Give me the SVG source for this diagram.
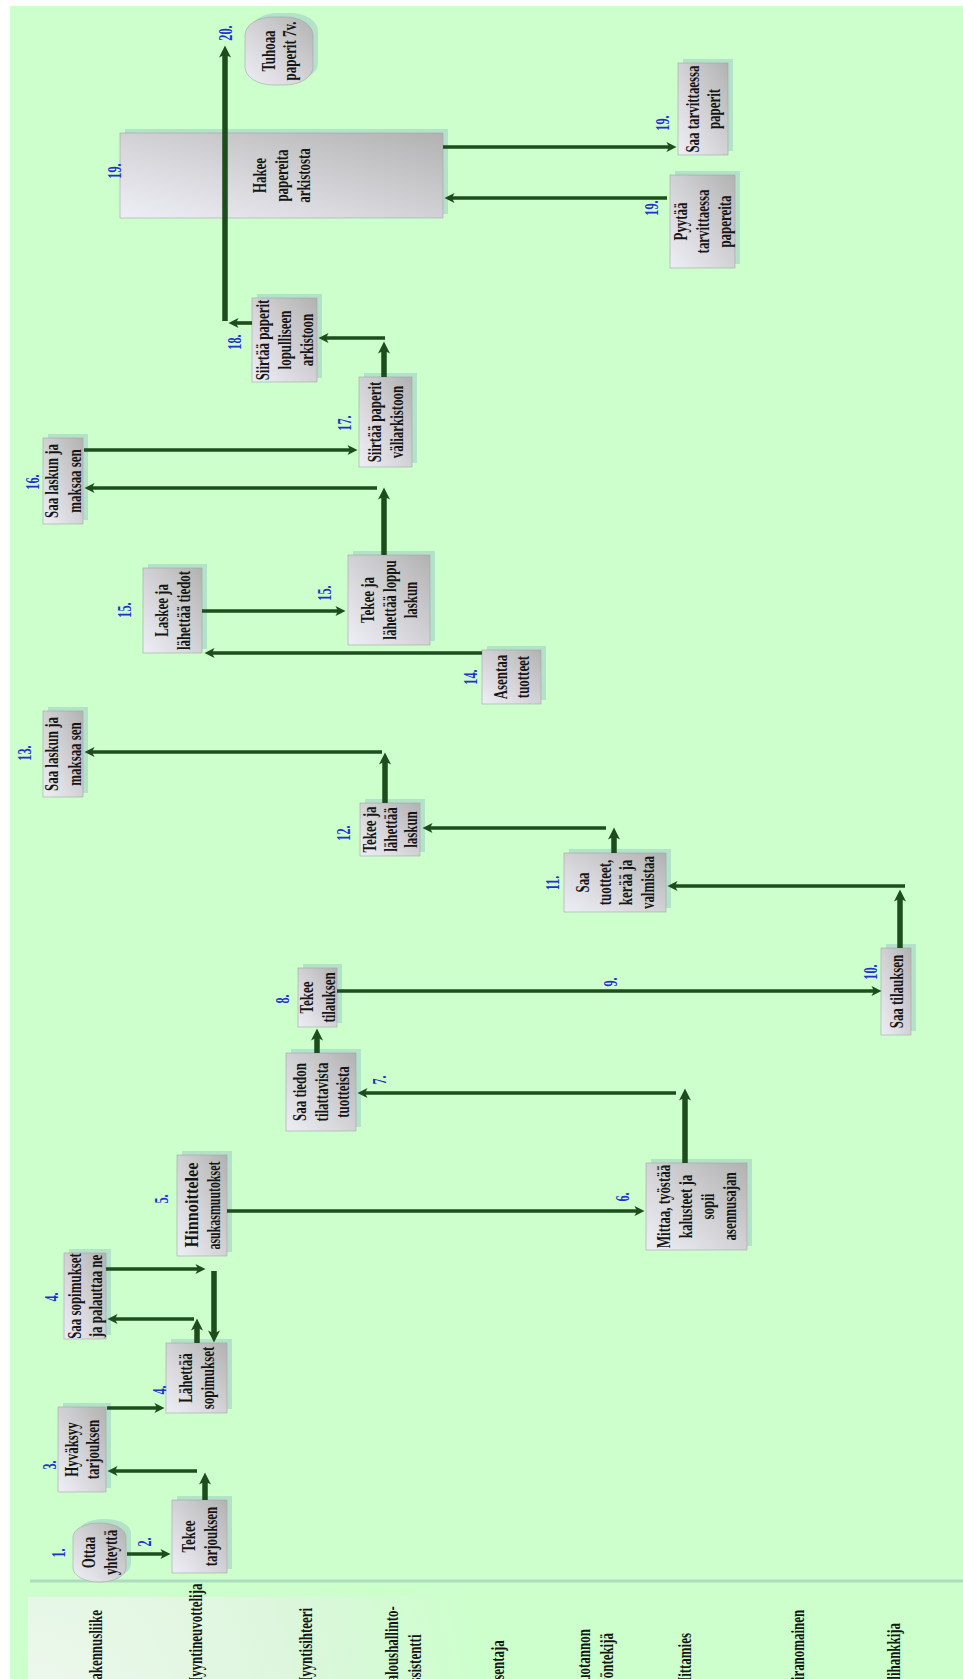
<svg xmlns="http://www.w3.org/2000/svg" width="963" height="1679" viewBox="0 0 963 1679">
  <style>
    .box { fill: url(#boxGrad); stroke: #a4a4a8; stroke-width: 0.6; }
    .shadow { fill: #b2e2c8; }
    .nt { font-family: "Liberation Serif", "Times New Roman", serif; font-weight: bold; font-size: 19px; fill: #151515; text-anchor: middle; }
    .num { font-family: "Liberation Serif", "Times New Roman", serif; font-weight: bold; font-size: 18px; fill: #1f2fd0; text-anchor: middle; }
    .lane { font-family: "Liberation Serif", "Times New Roman", serif; font-weight: bold; font-size: 19px; fill: #151515; text-anchor: start; }
    .thin { stroke: #1d4d1d; stroke-width: 3.6; fill: none; marker-end: url(#headThin); }
    .thick { stroke: #1d4d1d; stroke-width: 5.5; fill: none; marker-end: url(#headThick); }
  </style>
  <defs>
    <linearGradient id="boxGrad" x1="0" y1="1" x2="1" y2="0">
      <stop offset="0" stop-color="#eeeef6"/>
      <stop offset="0.5" stop-color="#d2d2d6"/>
      <stop offset="1" stop-color="#b2b2b2"/>
    </linearGradient>
    <radialGradient id="laneGrad" gradientUnits="userSpaceOnUse" cx="30" cy="1720" r="460">
      <stop offset="0" stop-color="#eef8ee"/>
      <stop offset="0.6" stop-color="#dcf6dc"/>
      <stop offset="1" stop-color="#ccffcc"/>
    </radialGradient>
    <marker id="headThin" viewBox="0 0 10 10" markerUnits="userSpaceOnUse" markerWidth="11" markerHeight="10" refX="4.5" refY="5" orient="auto">
      <path d="M0,0 L10,5 L0,10 L2.5,5 z" fill="#1d4d1d"/>
    </marker>
    <marker id="headThick" viewBox="0 0 10 10" markerUnits="userSpaceOnUse" markerWidth="13" markerHeight="12" refX="4.5" refY="5" orient="auto">
      <path d="M0,0 L10,5 L0,10 L2.5,5 z" fill="#1d4d1d"/>
    </marker>
  </defs>

  <!-- page -->
  <rect x="0" y="0" width="963" height="1679" fill="#ffffff"/>
  <rect x="10" y="6" width="953" height="1673" fill="#ccffcc"/>

  <!-- lane header strip -->
  <g id="lanes">
    <rect x="28" y="1597" width="930" height="90" fill="url(#laneGrad)"/>
    <line x1="30" y1="1581" x2="963" y2="1581" stroke="#aedcc0" stroke-width="3"/>
    <text class="lane" transform="translate(95,1689) rotate(-90) scale(0.68,1)" y="6.5">Rakennusliike</text>
    <text class="lane" transform="translate(195,1689) rotate(-90) scale(0.68,1)" y="6.5">Myyntineuvottelija</text>
    <text class="lane" transform="translate(305,1689) rotate(-90) scale(0.68,1)" y="6.5">Myyntisihteeri</text>
    <text class="lane" transform="translate(403,1689) rotate(-90) scale(0.68,1)"><tspan x="0" y="-5.5">Taloushallinto-</tspan><tspan x="0" y="18.5">assistentti</tspan></text>
    <text class="lane" transform="translate(497,1689) rotate(-90) scale(0.68,1)" y="6.5">Asentaja</text>
    <text class="lane" transform="translate(595,1689) rotate(-90) scale(0.68,1)"><tspan x="0" y="-5">Tuotannon</tspan><tspan x="0" y="18">työntekijä</tspan></text>
    <text class="lane" transform="translate(684,1689) rotate(-90) scale(0.68,1)" y="6.5">Mittamies</text>
    <text class="lane" transform="translate(797,1689) rotate(-90) scale(0.68,1)" y="6.5">Viranomainen</text>
    <text class="lane" transform="translate(893,1689) rotate(-90) scale(0.68,1)" y="6.5">Alihankkija</text>
  </g>

  <!-- process steps -->
  <g id="n1">
    <rect class="shadow" x="78" y="1519" width="53" height="59" rx="26" ry="14"/>
    <rect class="box" x="73" y="1523" width="53" height="59" rx="26" ry="14"/>
    <text class="nt" transform="translate(99.5,1552.5) rotate(-90) scale(0.68,1)"><tspan x="0" y="-4.5">Ottaa</tspan><tspan x="0" y="17.5">yhteyttä</tspan></text>
  </g>
  <g id="n2">
    <rect class="shadow" x="177" y="1496" width="55" height="73"/>
    <rect class="box" x="172" y="1500" width="55" height="73"/>
    <text class="nt" transform="translate(199.5,1536.5) rotate(-90) scale(0.68,1)"><tspan x="0" y="-4.5">Tekee</tspan><tspan x="0" y="17.5">tarjouksen</tspan></text>
  </g>
  <g id="n3">
    <rect class="shadow" x="63" y="1403" width="48" height="85"/>
    <rect class="box" x="58" y="1407" width="48" height="85"/>
    <text class="nt" transform="translate(82,1449.5) rotate(-90) scale(0.68,1)"><tspan x="0" y="-4.5">Hyväksyy</tspan><tspan x="0" y="17.5">tarjouksen</tspan></text>
  </g>
  <g id="n4a">
    <rect class="shadow" x="171" y="1339" width="61" height="70"/>
    <rect class="box" x="166" y="1343" width="61" height="70"/>
    <text class="nt" transform="translate(196.5,1378) rotate(-90) scale(0.68,1)"><tspan x="0" y="-4.5">Lähettää</tspan><tspan x="0" y="17.5">sopimukset</tspan></text>
  </g>
  <g id="n4b">
    <rect class="shadow" x="69" y="1249" width="42" height="86"/>
    <rect class="box" x="64" y="1253" width="42" height="86"/>
    <text class="nt" transform="translate(85,1296) rotate(-90) scale(0.68,1)"><tspan x="0" y="-4.5">Saa sopimukset</tspan><tspan x="0" y="17.5">ja palauttaa ne</tspan></text>
  </g>
  <g id="n5">
    <rect class="shadow" x="182" y="1151" width="50" height="101"/>
    <rect class="box" x="177" y="1155" width="50" height="101"/>
    <text class="nt" transform="translate(202,1205.5) rotate(-90)"><tspan x="-42" y="-4.5" textLength="85" lengthAdjust="spacingAndGlyphs" text-anchor="start">Hinnoittelee</tspan><tspan x="-44" y="17.5" textLength="88" lengthAdjust="spacingAndGlyphs" text-anchor="start">asukasmuutokset</tspan></text>
  </g>
  <g id="n6">
    <rect class="shadow" x="651" y="1159" width="101" height="87"/>
    <rect class="box" x="646" y="1163" width="101" height="87"/>
    <text class="nt" transform="translate(696.5,1206.5) rotate(-90) scale(0.68,1)"><tspan x="0" y="-26.5">Mittaa, työstää</tspan><tspan x="0" y="-4.5">kalusteet ja</tspan><tspan x="0" y="17.5">sopii</tspan><tspan x="0" y="39.5">asennusajan</tspan></text>
  </g>
  <g id="n7">
    <rect class="shadow" x="291" y="1049" width="70" height="78"/>
    <rect class="box" x="286" y="1053" width="70" height="78"/>
    <text class="nt" transform="translate(321,1092) rotate(-90) scale(0.68,1)"><tspan x="0" y="-15.5">Saa tiedon</tspan><tspan x="0" y="6.5">tilattavista</tspan><tspan x="0" y="28.5">tuotteista</tspan></text>
  </g>
  <g id="n8">
    <rect class="shadow" x="303" y="964" width="39" height="59"/>
    <rect class="box" x="298" y="968" width="39" height="59"/>
    <text class="nt" transform="translate(317.5,997.5) rotate(-90) scale(0.68,1)"><tspan x="0" y="-4.5">Tekee</tspan><tspan x="0" y="17.5">tilauksen</tspan></text>
  </g>
  <g id="n10">
    <rect class="shadow" x="886" y="944" width="30" height="87"/>
    <rect class="box" x="881" y="948" width="30" height="87"/>
    <text class="nt" transform="translate(896,991.5) rotate(-90) scale(0.68,1)" y="6.5">Saa tilauksen</text>
  </g>
  <g id="n11">
    <rect class="shadow" x="569" y="849" width="102" height="59"/>
    <rect class="box" x="564" y="853" width="102" height="59"/>
    <text class="nt" transform="translate(615,882.5) rotate(-90) scale(0.68,1)"><tspan x="0" y="-26.5">Saa</tspan><tspan x="0" y="-4.5">tuotteet,</tspan><tspan x="0" y="17.5">kerää ja</tspan><tspan x="0" y="39.5">valmistaa</tspan></text>
  </g>
  <g id="n12">
    <rect class="shadow" x="365" y="799" width="60" height="53"/>
    <rect class="box" x="360" y="803" width="60" height="53"/>
    <text class="nt" transform="translate(390,829.5) rotate(-90) scale(0.68,1)"><tspan x="0" y="-14.5">Tekee ja</tspan><tspan x="0" y="6.5">lähettää</tspan><tspan x="0" y="27.5">laskun</tspan></text>
  </g>
  <g id="n13">
    <rect class="shadow" x="48" y="707" width="40" height="86"/>
    <rect class="box" x="43" y="711" width="40" height="86"/>
    <text class="nt" transform="translate(63,754) rotate(-90) scale(0.68,1)"><tspan x="0" y="-5">Saa laskun ja</tspan><tspan x="0" y="18">maksaa sen</tspan></text>
  </g>
  <g id="n14">
    <rect class="shadow" x="487" y="646" width="59" height="54"/>
    <rect class="box" x="482" y="650" width="59" height="54"/>
    <text class="nt" transform="translate(511.5,677) rotate(-90) scale(0.68,1)"><tspan x="0" y="-4.5">Asentaa</tspan><tspan x="0" y="17.5">tuotteet</tspan></text>
  </g>
  <g id="n15a">
    <rect class="shadow" x="148" y="564" width="59" height="85"/>
    <rect class="box" x="143" y="568" width="59" height="85"/>
    <text class="nt" transform="translate(172.5,610.5) rotate(-90) scale(0.68,1)"><tspan x="0" y="-4.5">Laskee ja</tspan><tspan x="0" y="17.5">lähettää tiedot</tspan></text>
  </g>
  <g id="n15b">
    <rect class="shadow" x="353" y="551" width="82" height="90"/>
    <rect class="box" x="348" y="555" width="82" height="90"/>
    <text class="nt" transform="translate(389,600) rotate(-90) scale(0.68,1)"><tspan x="0" y="-15.5">Tekee ja</tspan><tspan x="0" y="6.5">lähettää loppu</tspan><tspan x="0" y="28.5">laskun</tspan></text>
  </g>
  <g id="n16">
    <rect class="shadow" x="48" y="434" width="40" height="86"/>
    <rect class="box" x="43" y="438" width="40" height="86"/>
    <text class="nt" transform="translate(63,481) rotate(-90) scale(0.68,1)"><tspan x="0" y="-5">Saa laskun ja</tspan><tspan x="0" y="18">maksaa sen</tspan></text>
  </g>
  <g id="n17">
    <rect class="shadow" x="364" y="373" width="53" height="90"/>
    <rect class="box" x="359" y="377" width="53" height="90"/>
    <text class="nt" transform="translate(385.5,422) rotate(-90) scale(0.68,1)"><tspan x="0" y="-4.5">Siirtää paperit</tspan><tspan x="0" y="17.5">väliarkistoon</tspan></text>
  </g>
  <g id="n18">
    <rect class="shadow" x="257" y="294" width="65" height="84"/>
    <rect class="box" x="252" y="298" width="65" height="84"/>
    <text class="nt" transform="translate(284.5,340) rotate(-90) scale(0.68,1)"><tspan x="0" y="-15.5">Siirtää paperit</tspan><tspan x="0" y="6.5">lopulliseen</tspan><tspan x="0" y="28.5">arkistoon</tspan></text>
  </g>
  <g id="n19">
    <rect class="shadow" x="125" y="129" width="323" height="85"/>
    <rect class="box" x="120" y="133" width="323" height="85"/>
    <text class="nt" transform="translate(281.5,175.5) rotate(-90) scale(0.68,1)"><tspan x="0" y="-15.5">Hakee</tspan><tspan x="0" y="6.5">papereita</tspan><tspan x="0" y="28.5">arkistosta</tspan></text>
  </g>
  <g id="n20">
    <rect class="shadow" x="250" y="13" width="68" height="68" rx="28" ry="18"/>
    <rect class="box" x="245" y="17" width="68" height="68" rx="28" ry="18"/>
    <text class="nt" transform="translate(279,51) rotate(-90) scale(0.68,1)"><tspan x="0" y="-4.5">Tuhoaa</tspan><tspan x="0" y="17.5">paperit 7v.</tspan></text>
  </g>
  <g id="n19b">
    <rect class="shadow" x="683" y="59" width="50" height="92"/>
    <rect class="box" x="678" y="63" width="50" height="92"/>
    <text class="nt" transform="translate(703,109) rotate(-90) scale(0.68,1)"><tspan x="0" y="-4.5">Saa tarvittaessa</tspan><tspan x="0" y="17.5">paperit</tspan></text>
  </g>
  <g id="n19c">
    <rect class="shadow" x="675" y="171" width="65" height="93"/>
    <rect class="box" x="670" y="175" width="65" height="93"/>
    <text class="nt" transform="translate(702.5,221.5) rotate(-90) scale(0.68,1)"><tspan x="0" y="-15.5">Pyytää</tspan><tspan x="0" y="6.5">tarvittaessa</tspan><tspan x="0" y="28.5">papereita</tspan></text>
  </g>

  <!-- step numbers -->
  <g id="numbers">
    <text class="num" transform="translate(59,1553) rotate(-90) scale(0.68,1)" y="6">1.</text>
    <text class="num" transform="translate(145,1542) rotate(-90) scale(0.68,1)" y="6">2.</text>
    <text class="num" transform="translate(50,1465) rotate(-90) scale(0.68,1)" y="6">3.</text>
    <text class="num" transform="translate(160,1390) rotate(-90) scale(0.68,1)" y="6">4.</text>
    <text class="num" transform="translate(52,1297) rotate(-90) scale(0.68,1)" y="6">4.</text>
    <text class="num" transform="translate(162,1199) rotate(-90) scale(0.68,1)" y="6">5.</text>
    <text class="num" transform="translate(623,1197) rotate(-90) scale(0.68,1)" y="6">6.</text>
    <text class="num" transform="translate(380,1080) rotate(-90) scale(0.68,1)" y="6">7.</text>
    <text class="num" transform="translate(283,999) rotate(-90) scale(0.68,1)" y="6">8.</text>
    <text class="num" transform="translate(611,982) rotate(-90) scale(0.68,1)" y="6">9.</text>
    <text class="num" transform="translate(871,972) rotate(-90) scale(0.68,1)" y="6">10.</text>
    <text class="num" transform="translate(553,883) rotate(-90) scale(0.68,1)" y="6">11.</text>
    <text class="num" transform="translate(344,833) rotate(-90) scale(0.68,1)" y="6">12.</text>
    <text class="num" transform="translate(25,753) rotate(-90) scale(0.68,1)" y="6">13.</text>
    <text class="num" transform="translate(471,677) rotate(-90) scale(0.68,1)" y="6">14.</text>
    <text class="num" transform="translate(125,610) rotate(-90) scale(0.68,1)" y="6">15.</text>
    <text class="num" transform="translate(325,593) rotate(-90) scale(0.68,1)" y="6">15.</text>
    <text class="num" transform="translate(33,482) rotate(-90) scale(0.68,1)" y="6">16.</text>
    <text class="num" transform="translate(345,423) rotate(-90) scale(0.68,1)" y="6">17.</text>
    <text class="num" transform="translate(235,342) rotate(-90) scale(0.68,1)" y="6">18.</text>
    <text class="num" transform="translate(115,171) rotate(-90) scale(0.68,1)" y="6">19.</text>
    <text class="num" transform="translate(663,123) rotate(-90) scale(0.68,1)" y="6">19.</text>
    <text class="num" transform="translate(652,208) rotate(-90) scale(0.68,1)" y="6">19.</text>
    <text class="num" transform="translate(226,33) rotate(-90) scale(0.68,1)" y="6">20.</text>
  </g>

  <!-- connectors -->
  <g id="connectors">
    <line class="thin" x1="127" y1="1554" x2="165" y2="1554"/>
    <line class="thick" x1="205" y1="1500" x2="205" y2="1479"/>
    <line class="thin" x1="197" y1="1471" x2="113" y2="1471"/>
    <line class="thin" x1="107" y1="1408" x2="159" y2="1408"/>
    <line class="thick" x1="197" y1="1343" x2="197" y2="1325"/>
    <line class="thin" x1="194" y1="1319" x2="113" y2="1319"/>
    <line class="thin" x1="106" y1="1269" x2="200" y2="1269"/>
    <line class="thick" x1="214" y1="1271" x2="214" y2="1336"/>
    <line class="thin" x1="227" y1="1211" x2="639" y2="1211"/>
    <line class="thick" x1="685" y1="1163" x2="685" y2="1095"/>
    <line class="thin" x1="676" y1="1093" x2="363" y2="1093"/>
    <line class="thick" x1="317" y1="1053" x2="317" y2="1035"/>
    <line class="thin" x1="337" y1="991" x2="876" y2="991"/>
    <line class="thick" x1="900" y1="948" x2="900" y2="896"/>
    <line class="thin" x1="905" y1="886" x2="673" y2="886"/>
    <line class="thick" x1="614" y1="853" x2="614" y2="834"/>
    <line class="thin" x1="606" y1="828" x2="428" y2="828"/>
    <line class="thick" x1="385" y1="803" x2="385" y2="759"/>
    <line class="thin" x1="382" y1="752" x2="90" y2="752"/>
    <line class="thin" x1="482" y1="653" x2="210" y2="653"/>
    <line class="thin" x1="202" y1="611" x2="340" y2="611"/>
    <line class="thick" x1="384" y1="555" x2="384" y2="494"/>
    <line class="thin" x1="377" y1="488" x2="90" y2="488"/>
    <line class="thin" x1="84" y1="450" x2="352" y2="450"/>
    <line class="thick" x1="384" y1="377" x2="384" y2="348"/>
    <line class="thin" x1="385" y1="338" x2="324" y2="338"/>
    <line class="thin" x1="252" y1="323" x2="234" y2="323"/>
    <line class="thick" x1="225" y1="321" x2="225" y2="52"/>
    <line class="thin" x1="443" y1="147" x2="671" y2="147"/>
    <line class="thin" x1="667" y1="198" x2="450" y2="198"/>
  </g>
</svg>
